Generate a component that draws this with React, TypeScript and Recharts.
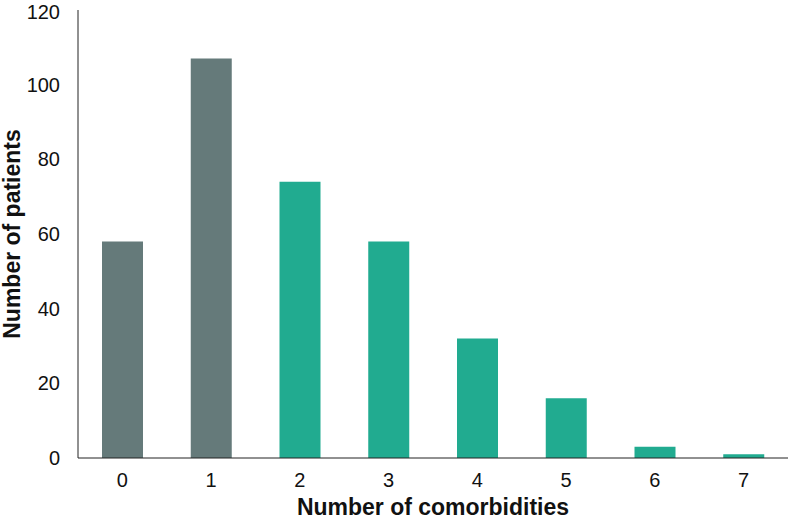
import { BarChart, Bar, Cell, XAxis, YAxis, Label } from 'recharts';

const categories = ['0', '1', '2', '3', '4', '5', '6', '7'];
const patients = [58, 107, 74, 58, 32, 16, 3, 1];
const barColors = ['#657a7a', '#657a7a', '#21ab90', '#21ab90', '#21ab90', '#21ab90', '#21ab90', '#21ab90'];
const yTicks = [0, 20, 40, 60, 80, 100, 120];

const data = categories.map((c, i) => ({ comorbidities: c, patients: patients[i] }));

export default function App() {
  return (
    <div style={{ position: 'absolute', left: 0, top: 0, fontFamily: '"Liberation Sans", Arial, sans-serif' }}>
      <BarChart
        width={789}
        height={520}
        data={data}
        margin={{ top: 10, right: 1, bottom: 0, left: 0 }}
        barSize={41}
      >
        <XAxis
          dataKey="comorbidities"
          height={62}
          tickLine={false}
          tickMargin={9}
          axisLine={{ stroke: '#222' }}
          tick={{ fill: '#111', fontSize: 20 }}
        >
          <Label
            value="Number of comorbidities"
            position="insideBottom"
            offset={5}
            style={{ fill: '#111', fontSize: 23, fontWeight: 'bold' }}
          />
        </XAxis>
        <YAxis
          width={78}
          domain={[0, 120]}
          ticks={yTicks}
          tickLine={false}
          tickMargin={12}
          axisLine={{ stroke: '#222' }}
          tick={{ fill: '#111', fontSize: 20 }}
        >
          <Label
            value="Number of patients"
            angle={-90}
            position="insideLeft"
            offset={12}
            style={{ textAnchor: 'middle', fill: '#111', fontSize: 23, fontWeight: 'bold' }}
          />
        </YAxis>
        <Bar dataKey="patients" isAnimationActive={false}>
          {data.map((d, i) => (
            <Cell key={d.comorbidities} fill={barColors[i]} />
          ))}
        </Bar>
      </BarChart>
    </div>
  );
}
